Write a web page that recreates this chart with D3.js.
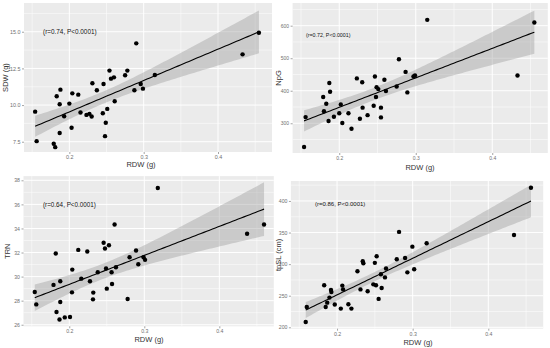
<!DOCTYPE html>
<html>
<head>
<meta charset="utf-8">
<script src="https://cdn.jsdelivr.net/npm/d3@7"></script>
<style>
  body { margin: 0; background: #fff; }
  svg { display: block; font-family: 'Liberation Sans', Arial, sans-serif; }
</style>
</head>
<body>
<div id="chart"></div>
<script>
// RDW (g) per panel
const sdwX = [0.154, 0.156, 0.179, 0.181, 0.183, 0.188, 0.187, 0.187, 0.193, 0.200, 0.204, 0.203, 0.212, 0.215, 0.223, 0.227, 0.230, 0.231, 0.237, 0.245, 0.246, 0.249, 0.248, 0.251, 0.254, 0.256, 0.260, 0.261, 0.275, 0.278, 0.2875, 0.290, 0.296, 0.299, 0.315, 0.433, 0.455];
const sdwY = [9.55, 7.54, 7.36, 7.13, 10.6, 11.05, 10.06, 8.1, 9.24, 10.1, 10.8, 8.45, 10.71, 9.49, 9.33, 9.4, 9.22, 11.49, 11.01, 9.44, 11.44, 8.79, 7.88, 9.74, 12.35, 11.8, 11.89, 10.26, 12.03, 12.35, 11.01, 14.21, 11.44, 11.12, 12.05, 13.46, 14.93];

const npgX = [0.156, 0.154, 0.179, 0.180, 0.183, 0.187, 0.188, 0.186, 0.193, 0.200, 0.202, 0.204, 0.212, 0.216, 0.223, 0.227, 0.230, 0.2305, 0.237, 0.245, 0.2466, 0.248, 0.2488, 0.251, 0.2545, 0.2545, 0.259, 0.261, 0.275, 0.278, 0.2867, 0.289, 0.297, 0.299, 0.315, 0.433, 0.455];
const npgY = [319, 227, 381, 337, 360, 424, 397, 307, 320, 331, 358, 301, 331, 283, 438, 314, 426, 348, 325, 354, 444, 381, 411, 405, 348, 318, 434, 399, 413, 497, 458, 395, 444, 447, 618, 447, 610];

const trnX = [0.154, 0.156, 0.179, 0.182, 0.183, 0.187, 0.188, 0.188, 0.194, 0.201, 0.2036, 0.204, 0.212, 0.216, 0.224, 0.2276, 0.232, 0.2316, 0.238, 0.2458, 0.2476, 0.249, 0.250, 0.2529, 0.2564, 0.257, 0.2604, 0.2622, 0.2778, 0.2804, 0.289, 0.292, 0.299, 0.301, 0.318, 0.437, 0.4596];
const trnY = [28.72, 27.69, 29.31, 31.92, 27.06, 26.44, 27.89, 29.61, 26.61, 26.64, 28.69, 30.58, 32.22, 29.83, 32.08, 29.61, 28.67, 28.11, 30.36, 32.81, 32.33, 30.67, 29.0, 32.61, 30.36, 29.39, 34.33, 30.78, 28.14, 31.61, 32.17, 31.03, 31.61, 31.39, 37.36, 33.56, 34.33];

const tpslX = [0.1586, 0.160, 0.183, 0.185, 0.187, 0.190, 0.192, 0.1925, 0.197, 0.205, 0.207, 0.208, 0.215, 0.219, 0.227, 0.231, 0.234, 0.2348, 0.2405, 0.248, 0.250, 0.2524, 0.2515, 0.255, 0.258, 0.259, 0.2634, 0.2648, 0.279, 0.282, 0.290, 0.293, 0.2996, 0.302, 0.3185, 0.434, 0.4564];
const tpslY = [208.4, 232.2, 266.5, 232.2, 239, 247, 259, 256, 236, 229.6, 266, 260, 236.4, 229.6, 288.7, 260, 304.5, 301.3, 257, 268, 302, 312.4, 266.5, 245, 284, 262.3, 279, 293, 307.7, 351, 309.8, 287, 327.7, 291.8, 333, 346.2, 421];

// tick values
const xTicks = [0.2, 0.3, 0.4];
const xMinor = [0.15, 0.25, 0.35, 0.45];
const sdwTicks = [7.5, 10, 12.5, 15];
const npgTicks = [300, 400, 500, 600];
const trnTicks = [26, 28, 30, 32, 34, 36, 38];
const tpslTicks = [200, 250, 300, 350, 400];

const labels = ['(r=0.74, P<0.0001)', '(r=0.72, P<0.0001)', '(r=0.64, P<0.0001)', '(r=0.86, P<0.0001)'];
const yTitles = ['SDW (g)', 'NpG', 'TRN', 'tpSL (cm)'];

const width = 550, height = 348;
const svg = d3.select('#chart').append('svg')
  .attr('width', width).attr('height', height);

const panels = [
  { xs: sdwX, ys: sdwY, yt: sdwTicks, fmt: d3.format('.1f'), label: labels[0], title: yTitles[0],
    px: [24, 272], py: [152, 3], xd: [0.139, 0.4726], yd: [6.80, 16.96],
    lab: [43, 34, 6.4], tick: 5.4, xTitleX: 141, xTitleY: 167, yTitleX: 8 },
  { xs: npgX, ys: npgY, yt: npgTicks, fmt: d3.format('d'), label: labels[1], title: yTitles[1],
    px: [292.6, 547.8], py: [153, 3], xd: [0.139, 0.4726], yd: [208.6, 669.8],
    lab: [306, 37, 5.3], tick: 5, xTitleX: 420, xTitleY: 169.5, yTitleX: 281 },
  { xs: trnX, ys: trnY, yt: trnTicks, fmt: d3.format('d'), label: labels[2], title: yTitles[2],
    px: [23.5, 273.8], py: [326.3, 176.1], xd: [0.139, 0.4726], yd: [25.87, 38.35],
    lab: [43, 207, 6.3], tick: 5.2, xTitleX: 149, xTitleY: 342, yTitleX: 10 },
  { xs: tpslX, ys: tpslY, yt: tpslTicks, fmt: d3.format('d'), label: labels[3], title: yTitles[3],
    px: [290.9, 543.2], py: [328.7, 181.0], xd: [0.139, 0.4726], yd: [197.8, 431.6],
    lab: [315, 205.5, 6.0], tick: 5.2, xTitleX: 418, xTitleY: 344.5, yTitleX: 281 },
];

panels.forEach(drawPanel);

function fit(xs, ys) {
  const n = xs.length;
  const mx = d3.mean(xs), my = d3.mean(ys);
  let sxx = 0, sxy = 0;
  for (let i = 0; i < n; i++) {
    sxx += (xs[i] - mx) ** 2;
    sxy += (xs[i] - mx) * (ys[i] - my);
  }
  const b = sxy / sxx, a = my - b * mx;
  let sse = 0;
  for (let i = 0; i < n; i++) sse += (ys[i] - a - b * xs[i]) ** 2;
  const s = Math.sqrt(sse / (n - 2));
  const t = 2.03; // t(0.975, 35)
  const lo = d3.min(xs), hi = d3.max(xs);
  return d3.range(81).map((k) => {
    const x = lo + (hi - lo) * k / 80;
    const yh = a + b * x;
    const se = s * Math.sqrt(1 / n + (x - mx) ** 2 / sxx);
    return { x, y: yh, y0: yh - t * se, y1: yh + t * se };
  });
}

function drawPanel(p) {
  const x = d3.scaleLinear().domain(p.xd).range(p.px);
  const y = d3.scaleLinear().domain(p.yd).range(p.py);
  const g = svg.append('g');

  // panel background
  g.append('rect')
    .attr('x', p.px[0]).attr('y', p.py[1])
    .attr('width', p.px[1] - p.px[0]).attr('height', p.py[0] - p.py[1])
    .attr('fill', '#ebebeb');

  // minor grid
  const step = p.yt[1] - p.yt[0];
  const yMinor = d3.range(p.yt[0] - step / 2, p.yt[p.yt.length - 1] + step, step)
    .filter((v) => v > p.yd[0] && v < p.yd[1]);
  g.selectAll('.ymn').data(yMinor).join('line')
    .attr('x1', p.px[0]).attr('x2', p.px[1])
    .attr('y1', (d) => y(d)).attr('y2', (d) => y(d))
    .attr('stroke', '#fff').attr('stroke-width', 0.5);
  g.selectAll('.xmn').data(xMinor.filter((v) => v < p.xd[1])).join('line')
    .attr('y1', p.py[0]).attr('y2', p.py[1])
    .attr('x1', (d) => x(d)).attr('x2', (d) => x(d))
    .attr('stroke', '#fff').attr('stroke-width', 0.5);

  // major grid
  g.selectAll('.ymj').data(p.yt).join('line')
    .attr('x1', p.px[0]).attr('x2', p.px[1])
    .attr('y1', (d) => y(d)).attr('y2', (d) => y(d))
    .attr('stroke', '#fff').attr('stroke-width', 1);
  g.selectAll('.xmj').data(xTicks).join('line')
    .attr('y1', p.py[0]).attr('y2', p.py[1])
    .attr('x1', (d) => x(d)).attr('x2', (d) => x(d))
    .attr('stroke', '#fff').attr('stroke-width', 1);

  // axes
  const yAxis = d3.axisLeft(y).tickValues(p.yt).tickFormat(p.fmt).tickSize(2).tickPadding(1.5);
  const xAxis = d3.axisBottom(x).tickValues(xTicks).tickFormat(d3.format('.1f')).tickSize(2).tickPadding(1.5);
  const ya = g.append('g').attr('transform', `translate(${p.px[0]},0)`).call(yAxis);
  const xa = g.append('g').attr('transform', `translate(0,${p.py[0]})`).call(xAxis);
  [ya, xa].forEach((a) => {
    a.select('.domain').remove();
    a.selectAll('line').attr('stroke', '#666').attr('stroke-width', 0.6);
    a.selectAll('text').attr('fill', '#707070').style('font-size', p.tick + 'px')
      .style('font-family', "'Liberation Sans', Arial, sans-serif");
  });

  // smooth + ribbon
  const band = fit(p.xs, p.ys);
  g.append('path').datum(band)
    .attr('d', d3.area().x((d) => x(d.x)).y0((d) => y(d.y0)).y1((d) => y(d.y1)))
    .attr('fill', '#999').attr('fill-opacity', 0.4);

  // points
  g.selectAll('.pt').data(p.xs.map((v, i) => [v, p.ys[i]])).join('circle')
    .attr('cx', (d) => x(d[0])).attr('cy', (d) => y(d[1]))
    .attr('r', 2.2).attr('fill', '#000');

  g.append('path').datum(band)
    .attr('d', d3.line().x((d) => x(d.x)).y((d) => y(d.y)))
    .attr('fill', 'none').attr('stroke', '#000').attr('stroke-width', 1.1);

  // annotation
  g.append('text')
    .attr('x', p.lab[0]).attr('y', p.lab[1])
    .style('font-size', p.lab[2] + 'px').attr('fill', '#111')
    .text(p.label);

  // titles
  g.append('text')
    .attr('x', p.xTitleX).attr('y', p.xTitleY)
    .attr('text-anchor', 'middle').style('font-size', '7.5px').attr('fill', '#333')
    .text('RDW (g)');
  g.append('text')
    .attr('transform', `translate(${p.yTitleX},${(p.py[0] + p.py[1]) / 2}) rotate(-90)`)
    .attr('text-anchor', 'middle').style('font-size', '7.5px').attr('fill', '#333')
    .text(p.title);
}
</script>
</body>
</html>
